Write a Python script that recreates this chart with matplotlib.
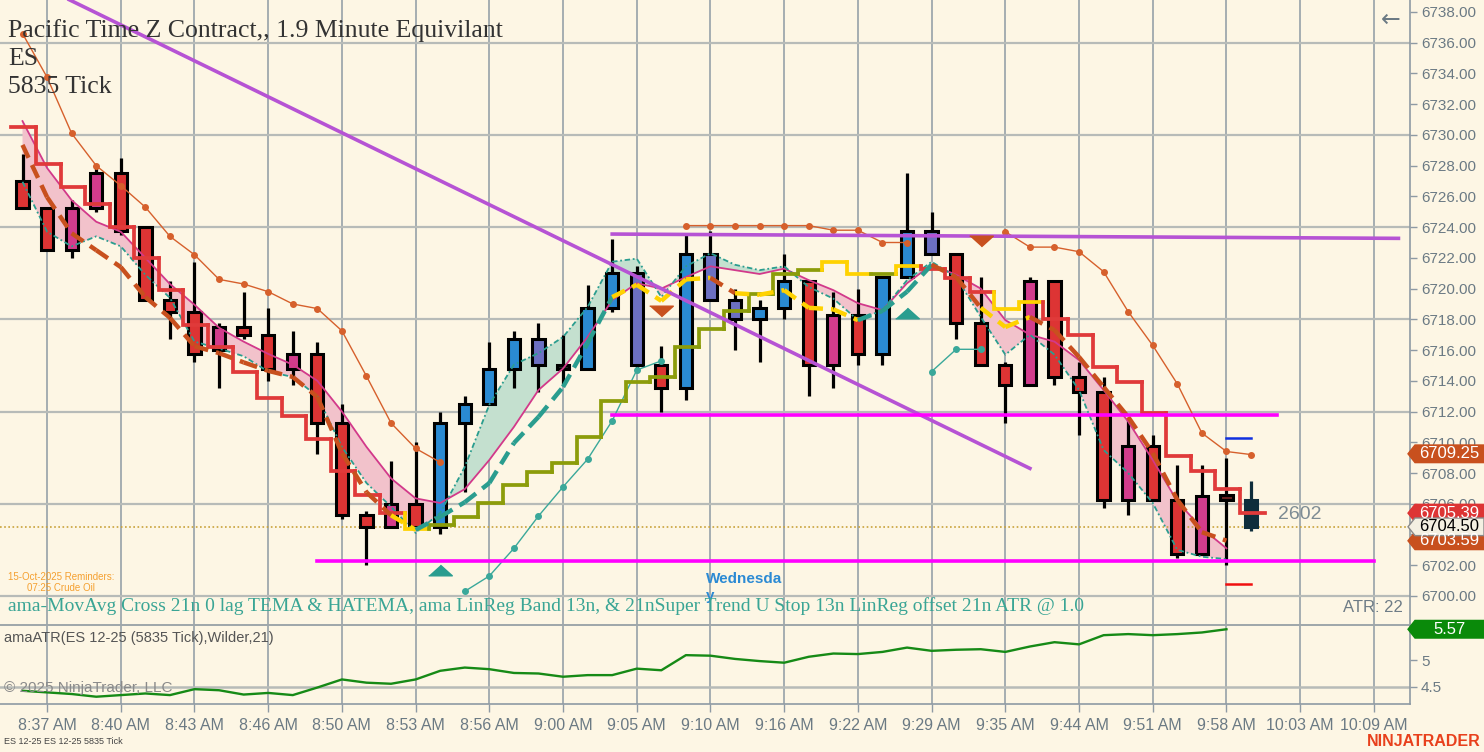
import numpy as np
import matplotlib
matplotlib.use("Agg")
import matplotlib.pyplot as plt
from matplotlib.patches import Rectangle, Polygon
from matplotlib.transforms import IdentityTransform

# Data ################
time_labels = ["8:37 AM", "8:40 AM", "8:43 AM", "8:46 AM", "8:50 AM", "8:53 AM", "8:56 AM",
               "9:00 AM", "9:05 AM", "9:10 AM", "9:16 AM", "9:22 AM", "9:29 AM", "9:35 AM",
               "9:44 AM", "9:51 AM", "9:58 AM", "10:03 AM", "10:09 AM"]
time_bars = [1, 4, 7, 10, 13, 16, 19, 22, 25, 28, 31, 34, 37, 40, 43, 46, 49, 52, 55]

opens = [6727.0, 6725.25, 6725.25, 6727.5, 6727.5, 6724.0, 6719.25, 6718.5, 6717.5, 6717.5,
         6717.0, 6715.75, 6715.75, 6711.25, 6705.25, 6706.0, 6706.0, 6704.5, 6711.25, 6712.5,
         6714.75, 6715.0, 6715.0, 6714.75, 6718.75, 6715.0, 6715.0, 6713.5, 6719.25, 6718.0,
         6718.0, 6718.75, 6720.5, 6718.25, 6718.25, 6715.75, 6720.75, 6722.25, 6722.25, 6717.75,
         6715.0, 6720.5, 6720.5, 6714.25, 6713.25, 6709.75, 6709.75, 6706.25, 6706.5, 6706.5,
         6706.25]
highs = [6728.75, 6725.25, 6725.75, 6728.0, 6728.5, 6724.0, 6720.5, 6721.75, 6717.75, 6719.75,
         6718.75, 6717.25, 6716.5, 6712.5, 6705.5, 6708.75, 6710.0, 6712.0, 6713.0, 6716.5,
         6717.25, 6717.75, 6717.0, 6720.25, 6723.25, 6721.5, 6716.25, 6723.5, 6723.75, 6720.0,
         6719.25, 6722.25, 6720.5, 6719.75, 6720.0, 6720.75, 6727.5, 6725.0, 6722.25, 6720.75,
         6715.25, 6720.75, 6720.5, 6715.25, 6714.25, 6711.5, 6710.5, 6708.5, 6708.5, 6709.0,
         6707.5]
lows = [6725.25, 6722.5, 6722.0, 6725.0, 6723.5, 6719.25, 6716.75, 6715.25, 6713.5, 6716.75,
        6714.0, 6713.75, 6709.25, 6705.0, 6702.0, 6704.5, 6704.5, 6704.0, 6706.75, 6712.5,
        6713.5, 6713.25, 6713.75, 6714.75, 6718.5, 6714.75, 6712.0, 6712.75, 6719.25, 6716.0,
        6715.25, 6718.0, 6713.0, 6713.5, 6715.0, 6715.0, 6720.75, 6722.25, 6716.75, 6715.0,
        6711.25, 6713.75, 6713.75, 6710.5, 6705.75, 6705.25, 6706.25, 6702.5, 6702.75, 6702.0,
        6704.25]
closes = [6725.25, 6722.5, 6722.5, 6725.25, 6723.75, 6719.25, 6718.5, 6715.75, 6716.0, 6717.0,
          6714.75, 6714.75, 6711.25, 6705.25, 6704.5, 6704.5, 6704.5, 6711.25, 6712.5, 6714.75,
          6716.75, 6716.75, 6714.75, 6718.75, 6721.0, 6721.0, 6713.5, 6722.25, 6722.25, 6719.25,
          6718.75, 6720.5, 6715.0, 6715.0, 6715.75, 6720.75, 6723.75, 6723.75, 6717.75, 6715.0,
          6713.75, 6713.75, 6714.25, 6713.25, 6706.25, 6706.25, 6706.25, 6702.75, 6702.75, 6706.25,
          6704.5]
bar_paint = "rrmmrrrrmrrmrrrmrbbbbskbbsrbssbbrmrbbsrrrmrrrmrrmdn"

stop_line = [6730.5, 6728.1, 6726.6, 6725.5, 6724.0, 6722.0, 6719.9, 6717.6, 6716.2, 6714.6,
             6712.9, 6711.7, 6710.2, 6708.15, 6706.6, 6705.4, 6704.35, 6704.6, 6705.15, 6706.05,
             6707.25, 6708.05, 6708.65, 6710.35, 6712.7, 6713.9, 6714.25, 6716.2, 6717.4, 6718.55,
             6719.65, 6720.95, 6721.2, 6721.7, 6720.95, 6720.95, 6721.45, 6721.3, 6720.7, 6719.8,
             6718.7, 6719.15, 6718.05, 6717.0, 6714.9, 6713.9, 6711.9, 6709.1, 6708.1, 6706.95,
             6705.4]
stop_state = "rrrrrrrrrrrrrrrryooooooooooooooooyyoyrrryyrrrrrrrrr"

tema_line = [6729.35, 6725.95, 6723.6, 6722.5, 6721.4, 6719.45, 6718.1, 6716.25, 6715.8, 6715.2,
             6714.65, 6714.25, 6712.95, 6709.3, 6706.75, 6705.25, 6704.3, 6705.15, 6706.1, 6707.35,
             6709.95, 6711.65, 6713.6, 6716.45, 6719.45, 6720.25, 6719.2, 6720.6, 6720.7, 6719.7,
             6719.6, 6719.9, 6718.75, 6718.65, 6717.95, 6718.55, 6719.8, 6721.55, 6720.75, 6718.75,
             6717.5, 6718.15, 6717.3, 6715.55, 6713.6, 6711.65, 6709.3, 6706.25, 6704.15, 6703.6]
tema_state = "bbbbbbbbbbbbbbbyttttttttyyyybyyyyytttbbyybbbbbbbb"

band_upper = [6730.9, 6727.85, 6725.75, 6724.35, 6723.7, 6722.0, 6720.3, 6718.95, 6717.45, 6716.55,
              6715.75, 6715.05, 6714.0, 6712.0, 6709.7, 6707.65, 6706.35, 6706.05, 6706.95, 6708.85,
              6711.0, 6713.4, 6714.8, 6716.85, 6719.25, 6720.35, 6720.0, 6720.75, 6721.45, 6721.2,
              6720.95, 6721.3, 6720.55, 6719.9, 6719.05, 6718.6, 6720.35, 6721.55, 6720.9, 6720.0,
              6717.95, 6717.0, 6716.55, 6715.35, 6713.4, 6711.35, 6708.85, 6706.15, 6704.4, 6703.1]
band_lower = [6726.95, 6723.7, 6722.75, 6723.4, 6722.75, 6720.9, 6719.4, 6716.55, 6716.1, 6715.6,
              6714.6, 6714.25, 6713.0, 6709.7, 6707.35, 6705.8, 6704.1, 6705.4, 6708.4, 6712.45,
              6715.05, 6715.8, 6716.85, 6718.8, 6721.75, 6721.95, 6719.45, 6721.45, 6722.3, 6721.55,
              6721.2, 6721.45, 6720.1, 6719.35, 6717.95, 6718.6, 6720.55, 6721.75, 6720.75, 6718.15,
              6715.7, 6717.0, 6715.7, 6713.4, 6709.5, 6708.0, 6706.05, 6703.0, 6702.55, 6702.4]

n = None
offset_upper = [6736.6, 6733.75, 6730.1, 6728.0, 6726.7, 6725.3, 6723.4, 6722.2, 6720.6, 6720.3,
                6719.8, 6719.0, 6718.7, 6717.25, 6714.3, 6711.25, 6709.6, 6708.7, n, n,
                n, n, n, n, n, n, n, 6724.1, 6724.1, 6724.1,
                6724.1, 6724.1, 6724.1, 6723.8, 6723.8, 6723.0, 6723.0, n, n, n,
                6723.7, 6722.7, 6722.7, 6722.4, 6721.1, 6718.5, 6716.3, 6713.8, 6710.6, 6709.4,
                6709.2]
offset_lower = [n, n, n, n, n, n, n, n, n, n,
                n, n, n, n, n, n, n, n, 6700.3, 6701.3,
                6703.1, 6705.2, 6707.1, 6708.9, 6711.4, 6714.7, 6715.3, n, n, n,
                n, n, n, n, n, n, n, 6714.6, 6716.05, 6716.05,
                n, n, n, n, n, n, n, n, n, n,
                n]

atr = [4.43, 4.40, 4.37, 4.32, 4.35, 4.38, 4.35, 4.46, 4.44, 4.36,
       4.39, 4.35, 4.49, 4.64, 4.58, 4.56, 4.64, 4.80, 4.86, 4.83,
       4.76, 4.75, 4.69, 4.72, 4.72, 4.84, 4.81, 5.09, 5.08, 5.02,
       4.98, 4.95, 5.06, 5.12, 5.11, 5.15, 5.23, 5.17, 5.19, 5.20,
       5.15, 5.25, 5.33, 5.29, 5.46, 5.48, 5.46, 5.48, 5.51, 5.57]

# drawing objects (bar index, price)
down_trendline = ([1.9, 41.0], [6738.8, 6708.3])
resistance_line = ([24.0, 56.0], [6723.55, 6723.27])
mid_level = ([24.0, 51.05], [6711.75, 6711.75])
low_level = ([12.0, 55.0], [6702.25, 6702.25])
buy_arrows = ([17, 36], [6701.7, 6718.4])
sell_arrows = ([26, 39], [6718.55, 6723.1])
target_high = ([49, 50], [6710.3, 6710.3])
target_low = ([49, 50], [6700.8, 6700.8])
last_price = 6704.50
tag_values = [6709.25, 6705.39, 6703.59]
atr_last = 5.57
#########################

W, H = 1484, 752
BG = "#FDF6E4"
GRID_V = "#8E9AA4"
GRID_H = "#B7BBB8"
AXTXT = "#6B7A84"
paint = {"r": "#DD3434", "m": "#D23C8C", "b": "#2A8AD2", "s": "#6C70C2",
         "k": "#222222", "d": "#6A1F1F", "n": "#0E2D3B"}
step_col = {"r": "#E03A3A", "o": "#8C9C0A", "y": "#FFD200"}
ma_col = {"b": "#C8501E", "t": "#2A9D8F", "y": "#FFD200"}
serif = ["Liberation Serif", "DejaVu Serif"]
sans = ["Liberation Sans", "DejaVu Sans"]

fig = plt.figure(figsize=(W / 100, H / 100), dpi=100, facecolor=BG)


def fx(px):
    return px / W


def fy(py):
    return 1 - py / H


ax = fig.add_axes([0, fy(625), fx(1410), 625 / H], facecolor=BG)
ax2 = fig.add_axes([0, fy(704), fx(1410), (704 - 626) / H], facecolor=BG)

x0, x1 = -0.916, 56.47
ax.set_xlim(x0, x1)
ax.set_ylim(6698.11, 6738.78)
ax2.set_xlim(x0, x1)
ax2.set_ylim(4.185, 5.63)

# grid
for a in (ax, ax2):
    for b in time_bars:
        a.axvline(b, color=GRID_V, lw=1.1, zorder=0)
for p in range(6700, 6738, 6):
    ax.axhline(p, color=GRID_H, lw=1.6, zorder=0)
ax2.axhline(4.5, color=GRID_H, lw=1.8, zorder=0)

bars = np.arange(len(opens))
tb = np.arange(len(band_upper))
bu = np.array(band_upper)
bl = np.array(band_lower)
ax.fill_between(tb, bu, bl, where=bu >= bl, interpolate=True, color="#F2C2CB", lw=0, zorder=1)
ax.fill_between(tb, bu, bl, where=bu < bl, interpolate=True, color="#C4E0CF", lw=0, zorder=1)

# candles
bw = 0.5
for i in bars:
    o, h, l, c, k = opens[i], highs[i], lows[i], closes[i], bar_paint[i]
    edge = paint["n"] if k == "n" else "black"
    ax.plot([i, i], [l, h], color=edge, lw=2.3, solid_capstyle="butt", zorder=3)
    lo = min(o, c)
    ht = max(abs(c - o), 0.3)
    ax.add_patch(Rectangle((i - bw / 2, lo), bw, ht, facecolor=paint[k], edgecolor=edge,
                           lw=2.2, zorder=4))

# linreg band lines
ax.plot(tb, bu, color="#D2398A", lw=1.3, zorder=5)
ax.plot(tb, bl, color="#2A9D8F", lw=1.3, ls=(0, (3, 1.5, 1, 1.5)), zorder=5)

# offset dot lines
up = np.array([np.nan if v is None else v for v in offset_upper])
dn = np.array([np.nan if v is None else v for v in offset_lower])
ax.plot(bars, up, color="#D6602C", lw=1.0, marker="o", ms=4, zorder=5)
ax.plot(bars, dn, color="#3AA89A", lw=1.0, marker="o", ms=4, zorder=5)

# super trend stop (stepped)
prev = stop_line[0]
for i, v in enumerate(stop_line):
    ax.plot([i - 0.45, i - 0.45, i + 0.55], [prev, v, v], color=step_col[stop_state[i]],
            lw=2.7, solid_joinstyle="miter", zorder=6)
    prev = v

# TEMA dashed
for i in range(len(tema_line) - 1):
    ax.plot([i, i + 1], [tema_line[i], tema_line[i + 1]], color=ma_col[tema_state[i]],
            lw=3.2, ls=(0, (3.2, 1.8)), dash_capstyle="butt", zorder=6)

# drawing tools
ax.plot(*down_trendline, color="#B653D4", lw=2.6, zorder=7)
ax.plot(*resistance_line, color="#B653D4", lw=2.6, zorder=7)
ax.plot(*mid_level, color="#FF00FF", lw=2.6, zorder=7)
ax.plot(*low_level, color="#FF00FF", lw=2.6, zorder=7)
ax.plot(*target_high, color="#1030E0", lw=1.8, zorder=7)
ax.plot(*target_low, color="#F01010", lw=1.8, zorder=7)
ax.axhline(last_price, color="#C9A23A", lw=1.2, ls=(0, (1, 1.5)), zorder=2)

up_tri = [(-1, -0.45), (1, -0.45), (0, 0.45)]
dn_tri = [(-1, 0.45), (1, 0.45), (0, -0.45)]
ax.plot(*buy_arrows, ls="none", marker=up_tri, ms=17, color="#2A9D8F", zorder=8)
ax.plot(*sell_arrows, ls="none", marker=dn_tri, ms=17, color="#C8501E", zorder=8)

ax.text(51.1, 6705.3, "2602", color="#7E8C94", fontsize=14, family=sans, va="center",
        ha="left", zorder=9)

# ATR panel
ax2.plot(np.arange(len(atr)), atr, color="#168A16", lw=1.7, zorder=3)

# axes cosmetics
for a in (ax, ax2):
    for s in ("left", "top"):
        a.spines[s].set_visible(False)
    a.spines["right"].set_color(GRID_V)
    a.spines["right"].set_linewidth(1.2)
    a.yaxis.tick_right()
    a.tick_params(axis="y", right=True, left=False, length=5, width=1, color=GRID_V,
                  labelsize=11, labelcolor=AXTXT, pad=3)
ax.spines["bottom"].set_color("#9EA6AA")
ax.spines["bottom"].set_linewidth(1.4)
ax2.spines["bottom"].set_color(GRID_V)
ax2.spines["bottom"].set_linewidth(1.2)

ax.set_xticks([])
ax.set_yticks(np.arange(6700, 6739, 2))
ax.set_yticklabels([f"{v:.2f}" for v in np.arange(6700, 6739, 2)], family=sans)
ax2.set_yticks([4.5, 5])
ax2.set_yticklabels(["4.5", "5"], family=sans)
ax2.set_xticks(time_bars)
ax2.set_xticklabels(time_labels, family=sans)
ax2.tick_params(axis="x", length=6, width=1, color=GRID_V, labelsize=11.5,
                labelcolor=AXTXT, pad=4)


# right-side price tags
def price_tag(a, value, face, txt, fmt="{:.2f}", edge=None):
    y = a.transData.transform((0, value))[1]
    xa, xb, hh = 1408, 1484, 8.8
    pts = [(xa, y), (xa + 7, y + hh), (xb, y + hh), (xb, y - hh), (xa + 7, y - hh)]
    fig.add_artist(Polygon(pts, closed=True, transform=IdentityTransform(), facecolor=face,
                           edgecolor=edge or face, lw=1, zorder=20))
    fig.text(fx((xa + 7 + xb) / 2), y / H, fmt.format(value), color=txt, fontsize=12,
             family=sans, ha="center", va="center", zorder=21)


price_tag(ax, tag_values[0], "#C8501E", "white")
price_tag(ax, tag_values[1], "#DD3434", "white")
price_tag(ax, tag_values[2], "#C8501E", "white")
price_tag(ax, last_price, "#F4F0E2", "black", edge="#8A8A8A")
price_tag(ax2, atr_last, "#0A8A0A", "white")

# texts
title_col = "#333333"
fig.text(fx(8), fy(31), "Pacific Time Z Contract,, 1.9 Minute Equivilant", family=serif,
         fontsize=18.5, color=title_col, va="center")
fig.text(fx(8), fy(59), "ES", family=serif, fontsize=18.5, color=title_col, va="center")
fig.text(fx(8), fy(87), "5835 Tick", family=serif, fontsize=18.5, color=title_col, va="center")
fig.text(fx(1391), fy(20), "\u2190", fontsize=17, color=AXTXT, ha="center", va="center")

fig.text(fx(8), fy(577), "15-Oct-2025 Reminders:", family=sans, fontsize=7, color="#F5A030",
         va="center")
fig.text(fx(27), fy(588), "07:25 Crude Oil", family=sans, fontsize=7, color="#F5A030",
         va="center")
fig.text(fx(706), fy(579), "Wednesda", family=sans, fontsize=11, weight="bold",
         color="#2B8AD4", va="center")
fig.text(fx(706), fy(596), "y", family=sans, fontsize=11, weight="bold", color="#2B8AD4",
         va="center")
fig.text(fx(8), fy(606),
         "ama-MovAvg Cross 21n 0 lag TEMA & HATEMA, ama LinReg Band 13n, & 21nSuper Trend U Stop "
         "13n LinReg offset 21n ATR @ 1.0", family=serif, fontsize=14, color="#3AA595",
         va="center")
fig.text(fx(1403), fy(608), "ATR: 22", family=sans, fontsize=12, color="#6E7C86",
         ha="right", va="center")
fig.text(fx(4), fy(638), "amaATR(ES 12-25 (5835 Tick),Wilder,21)", family=sans, fontsize=10.5,
         color="#555555", va="center")
fig.text(fx(4), fy(688), "\u00a9 2025 NinjaTrader, LLC", family=sans, fontsize=11,
         color="#8A8A8A", va="center")
fig.text(fx(4), fy(742), "ES 12-25 ES 12-25 5835 Tick", family=sans, fontsize=6.5,
         color="#444444", va="center")
fig.text(fx(1481), fy(741), "NINJATRADER", family=sans, fontsize=11.5, weight="bold",
         color="#E8401C", ha="right", va="center")

fig.savefig("out.png", dpi=100, facecolor=BG)
